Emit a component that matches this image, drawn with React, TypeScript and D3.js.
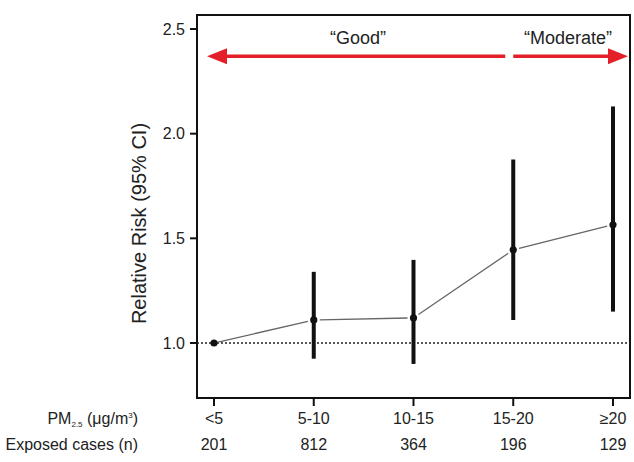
import * as d3 from "d3";
import React from "react";

// categories and values
const categories = ["<5", "5-10", "10-15", "15-20", "≥20"];
const cases = [201, 812, 364, 196, 129];
const rr = [1.0, 1.11, 1.12, 1.445, 1.565];
const lower = [1.0, 0.925, 0.9, 1.11, 1.15];
const upper = [1.0, 1.34, 1.397, 1.876, 2.13];
const yTicks = [1.0, 1.5, 2.0, 2.5];

const width = 634;
const height = 462;
const box = { left: 197, right: 630, top: 15, bottom: 398 };
const font = "Liberation Sans, Arial, sans-serif";
const red = "#e3202a";

const App = () => {
  const x = d3.scalePoint<string>().domain(categories).range([214, 613]);
  const y = d3.scaleLinear().domain([1.0, 2.5]).range([343, 29]);

  const pts = categories.map((c, i) => ({ c, x: x(c) as number, y: y(rr[i]) }));

  // line segments between points, trimmed so the dots get a small halo
  const segs = pts.slice(1).map((p, i) => {
    const a = pts[i];
    const dx = p.x - a.x;
    const dy = p.y - a.y;
    const len = Math.sqrt(dx * dx + dy * dy);
    const t = 6 / len;
    return {
      x1: a.x + dx * (i === 0 ? 0.02 : t),
      y1: a.y + dy * (i === 0 ? 0.02 : t),
      x2: p.x - dx * t,
      y2: p.y - dy * t,
    };
  });

  const arrowY = y(2.37);
  const leftTip = box.left + 10;
  const rightTip = box.right - 2;
  const gapX = x("15-20") as number;
  const head = 20;
  const hh = 8;

  return (
    <svg
      width={width}
      height={height}
      style={{ position: "absolute", left: 0, top: 0, background: "#fff" }}
      fontFamily={font}
    >
      {/* plot frame */}
      <rect
        x={box.left}
        y={box.top}
        width={box.right - box.left}
        height={box.bottom - box.top}
        fill="none"
        stroke="#111"
        strokeWidth={2}
      />

      {/* y axis ticks */}
      {yTicks.map((t) => (
        <g key={t}>
          <line x1={box.left - 7} x2={box.left} y1={y(t)} y2={y(t)} stroke="#111" strokeWidth={2} />
          <text x={box.left - 12} y={y(t)} dy="0.35em" textAnchor="end" fontSize={16} fill="#222">
            {d3.format(".1f")(t)}
          </text>
        </g>
      ))}
      <text
        transform={`translate(146,${(box.top + box.bottom) / 2 + 17}) rotate(-90)`}
        textAnchor="middle"
        fontSize={20}
        fill="#222"
      >
        Relative Risk (95% CI)
      </text>

      {/* reference line at RR = 1 */}
      <line
        x1={box.left}
        x2={box.right}
        y1={y(1)}
        y2={y(1)}
        stroke="#222"
        strokeWidth={1.3}
        strokeDasharray="2,2"
      />

      {/* connecting line */}
      {segs.map((s, i) => (
        <line key={i} x1={s.x1} y1={s.y1} x2={s.x2} y2={s.y2} stroke="#666" strokeWidth={1.3} />
      ))}

      {/* confidence intervals */}
      {categories.map((c, i) =>
        upper[i] > lower[i] ? (
          <line
            key={c}
            x1={x(c)}
            x2={x(c)}
            y1={y(lower[i])}
            y2={y(upper[i])}
            stroke="#111"
            strokeWidth={4}
          />
        ) : null
      )}
      {pts.map((p) => (
        <circle key={p.c} cx={p.x} cy={p.y} r={3.6} fill="#111" />
      ))}

      {/* AQI arrows */}
      <line x1={leftTip + head - 2} x2={gapX - 8} y1={arrowY} y2={arrowY} stroke={red} strokeWidth={3.5} />
      <path
        d={`M${leftTip},${arrowY} L${leftTip + head},${arrowY - hh} L${leftTip + head},${arrowY + hh} Z`}
        fill={red}
      />
      <line x1={gapX} x2={rightTip - head + 2} y1={arrowY} y2={arrowY} stroke={red} strokeWidth={3.5} />
      <path
        d={`M${rightTip},${arrowY} L${rightTip - head},${arrowY - hh} L${rightTip - head},${arrowY + hh} Z`}
        fill={red}
      />
      <text x={358} y={arrowY - 12} textAnchor="middle" fontSize={18} fill="#222">
        “Good”
      </text>
      <text x={568} y={arrowY - 12} textAnchor="middle" fontSize={18} fill="#222">
        “Moderate”
      </text>

      {/* x ticks and category rows */}
      {categories.map((c, i) => (
        <g key={c}>
          <line x1={x(c)} x2={x(c)} y1={box.bottom} y2={box.bottom + 8} stroke="#111" strokeWidth={2} />
          <text x={x(c)} y={424} textAnchor="middle" fontSize={16} fill="#222">
            {c}
          </text>
          <text x={x(c)} y={450} textAnchor="middle" fontSize={16} fill="#222">
            {cases[i]}
          </text>
        </g>
      ))}
      <text x={138} y={424} textAnchor="end" fontSize={16} fill="#222">
        PM<tspan fontSize={8} dy={3}>2.5</tspan>
        <tspan dy={-3}> (μg/m</tspan>
        <tspan fontSize={8} dy={-6}>3</tspan>
        <tspan dy={6}>)</tspan>
      </text>
      <text x={138} y={450} textAnchor="end" fontSize={16} fill="#222">
        Exposed cases (n)
      </text>
    </svg>
  );
};

export default App;
